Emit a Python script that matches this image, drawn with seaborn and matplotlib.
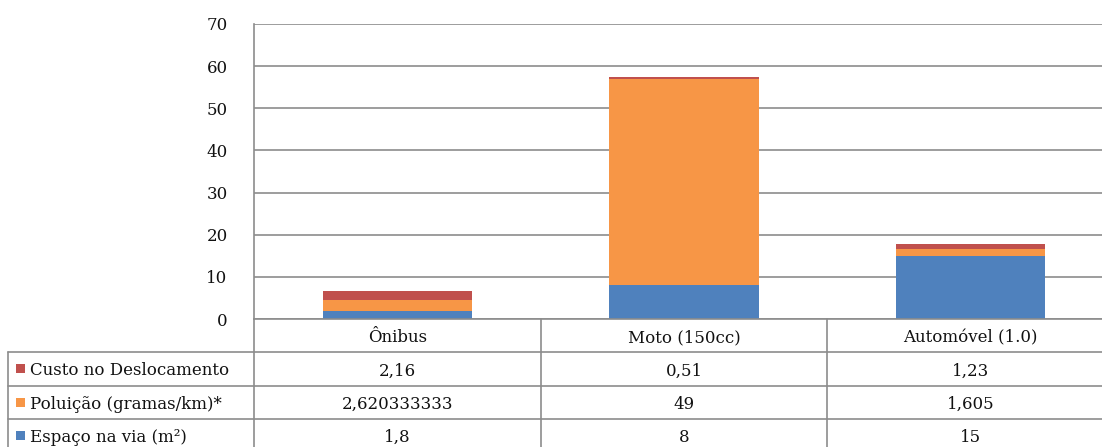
import matplotlib
matplotlib.use("Agg")
import matplotlib.pyplot as plt
from matplotlib.patches import Rectangle
import seaborn as sns
import numpy as np
import pandas as pd

categories = ["Ônibus", "Moto (150cc)", "Automóvel (1.0)"]
series_names = ["Custo no Deslocamento", "Poluição (gramas/km)*", "Espaço na via (m²)"]
espaco = [1.8, 8, 15]
poluicao = [2.620333333, 49, 1.605]
custo = [2.16, 0.51, 1.23]
yticks = [0, 10, 20, 30, 40, 50, 60, 70]

c_blue = "#4F81BD"
c_orange = "#F79646"
c_red = "#C0504D"
grid_c = "#8C8C8C"

sns.set_theme(style="white")
plt.rcParams["font.family"] = ["DejaVu Serif", "DejaVu Sans"]

W, H = 1102, 447
fig = plt.figure(figsize=(W / 100, H / 100), dpi=100)
ax = fig.add_axes([254 / W, 128 / H, 860 / W, 295 / H])

df = pd.DataFrame({"cat": categories, "espaco": espaco, "poluicao": poluicao, "custo": custo})
df["s1"] = df["espaco"]
df["s2"] = df["espaco"] + df["poluicao"]
df["s3"] = df["s2"] + df["custo"]

for col, colr in [("s3", c_red), ("s2", c_orange), ("s1", c_blue)]:
    sns.barplot(data=df, x="cat", y=col, order=categories, color=colr, saturation=1,
                width=0.52, linewidth=0, ax=ax, errorbar=None)

fs = 12
tc = "#111111"
ax.set_xlim(-0.5, 2.5)
ax.set_ylim(0, 70)
ax.set_yticks(yticks)
ax.set_yticklabels([str(t) for t in yticks], fontsize=fs, color=tc)
ax.tick_params(axis="y", length=0, pad=19)
ax.set_xticks([])
ax.set_xlabel("")
ax.set_ylabel("")
ax.yaxis.grid(True, color=grid_c, lw=1.2)
ax.set_axisbelow(True)
for s in ["top", "right"]:
    ax.spines[s].set_visible(False)
for s in ["left", "bottom"]:
    ax.spines[s].set_color(grid_c)
    ax.spines[s].set_linewidth(1.2)

# data table below the axes
tr = ax.get_xaxis_transform()
rh = 33.3 / 295
xl = -0.5 - 246 / 287
for i, c in enumerate(categories):
    ax.text(i, -rh / 2, c, transform=tr, ha="center", va="center_baseline", fontsize=fs,
            color=tc, clip_on=False)
rows = [(series_names[0], custo, c_red), (series_names[1], poluicao, c_orange),
        (series_names[2], espaco, c_blue)]
def fmt(v):
    s = repr(float(v))
    if s.endswith(".0"):
        s = s[:-2]
    return s.replace(".", ",")
sw = 9 / 287
sh = 9 / 295
for r, (name, vals, colr) in enumerate(rows):
    yc = -rh * (r + 1.5)
    ax.add_patch(Rectangle((xl + 8 / 287, yc - sh / 2), sw, sh, transform=tr,
                           facecolor=colr, edgecolor="none", clip_on=False))
    ax.text(xl + 22 / 287, yc, name, transform=tr, ha="left", va="center_baseline", fontsize=fs,
            color=tc, clip_on=False)
    for i, v in enumerate(vals):
        ax.text(i, yc, fmt(v), transform=tr, ha="center", va="center_baseline", fontsize=fs,
                color=tc, clip_on=False)
for k in range(1, 5):
    ax.plot([xl, 2.5], [-rh * k, -rh * k], transform=tr, color=grid_c, lw=1.2, clip_on=False)
for xv in [-0.5, 0.5, 1.5, 2.5]:
    ax.plot([xv, xv], [0, -rh * 4], transform=tr, color=grid_c, lw=1.2, clip_on=False)
ax.plot([xl, xl], [-rh, -rh * 4], transform=tr, color=grid_c, lw=1.2, clip_on=False)

fig.savefig("out.png", dpi=100)
